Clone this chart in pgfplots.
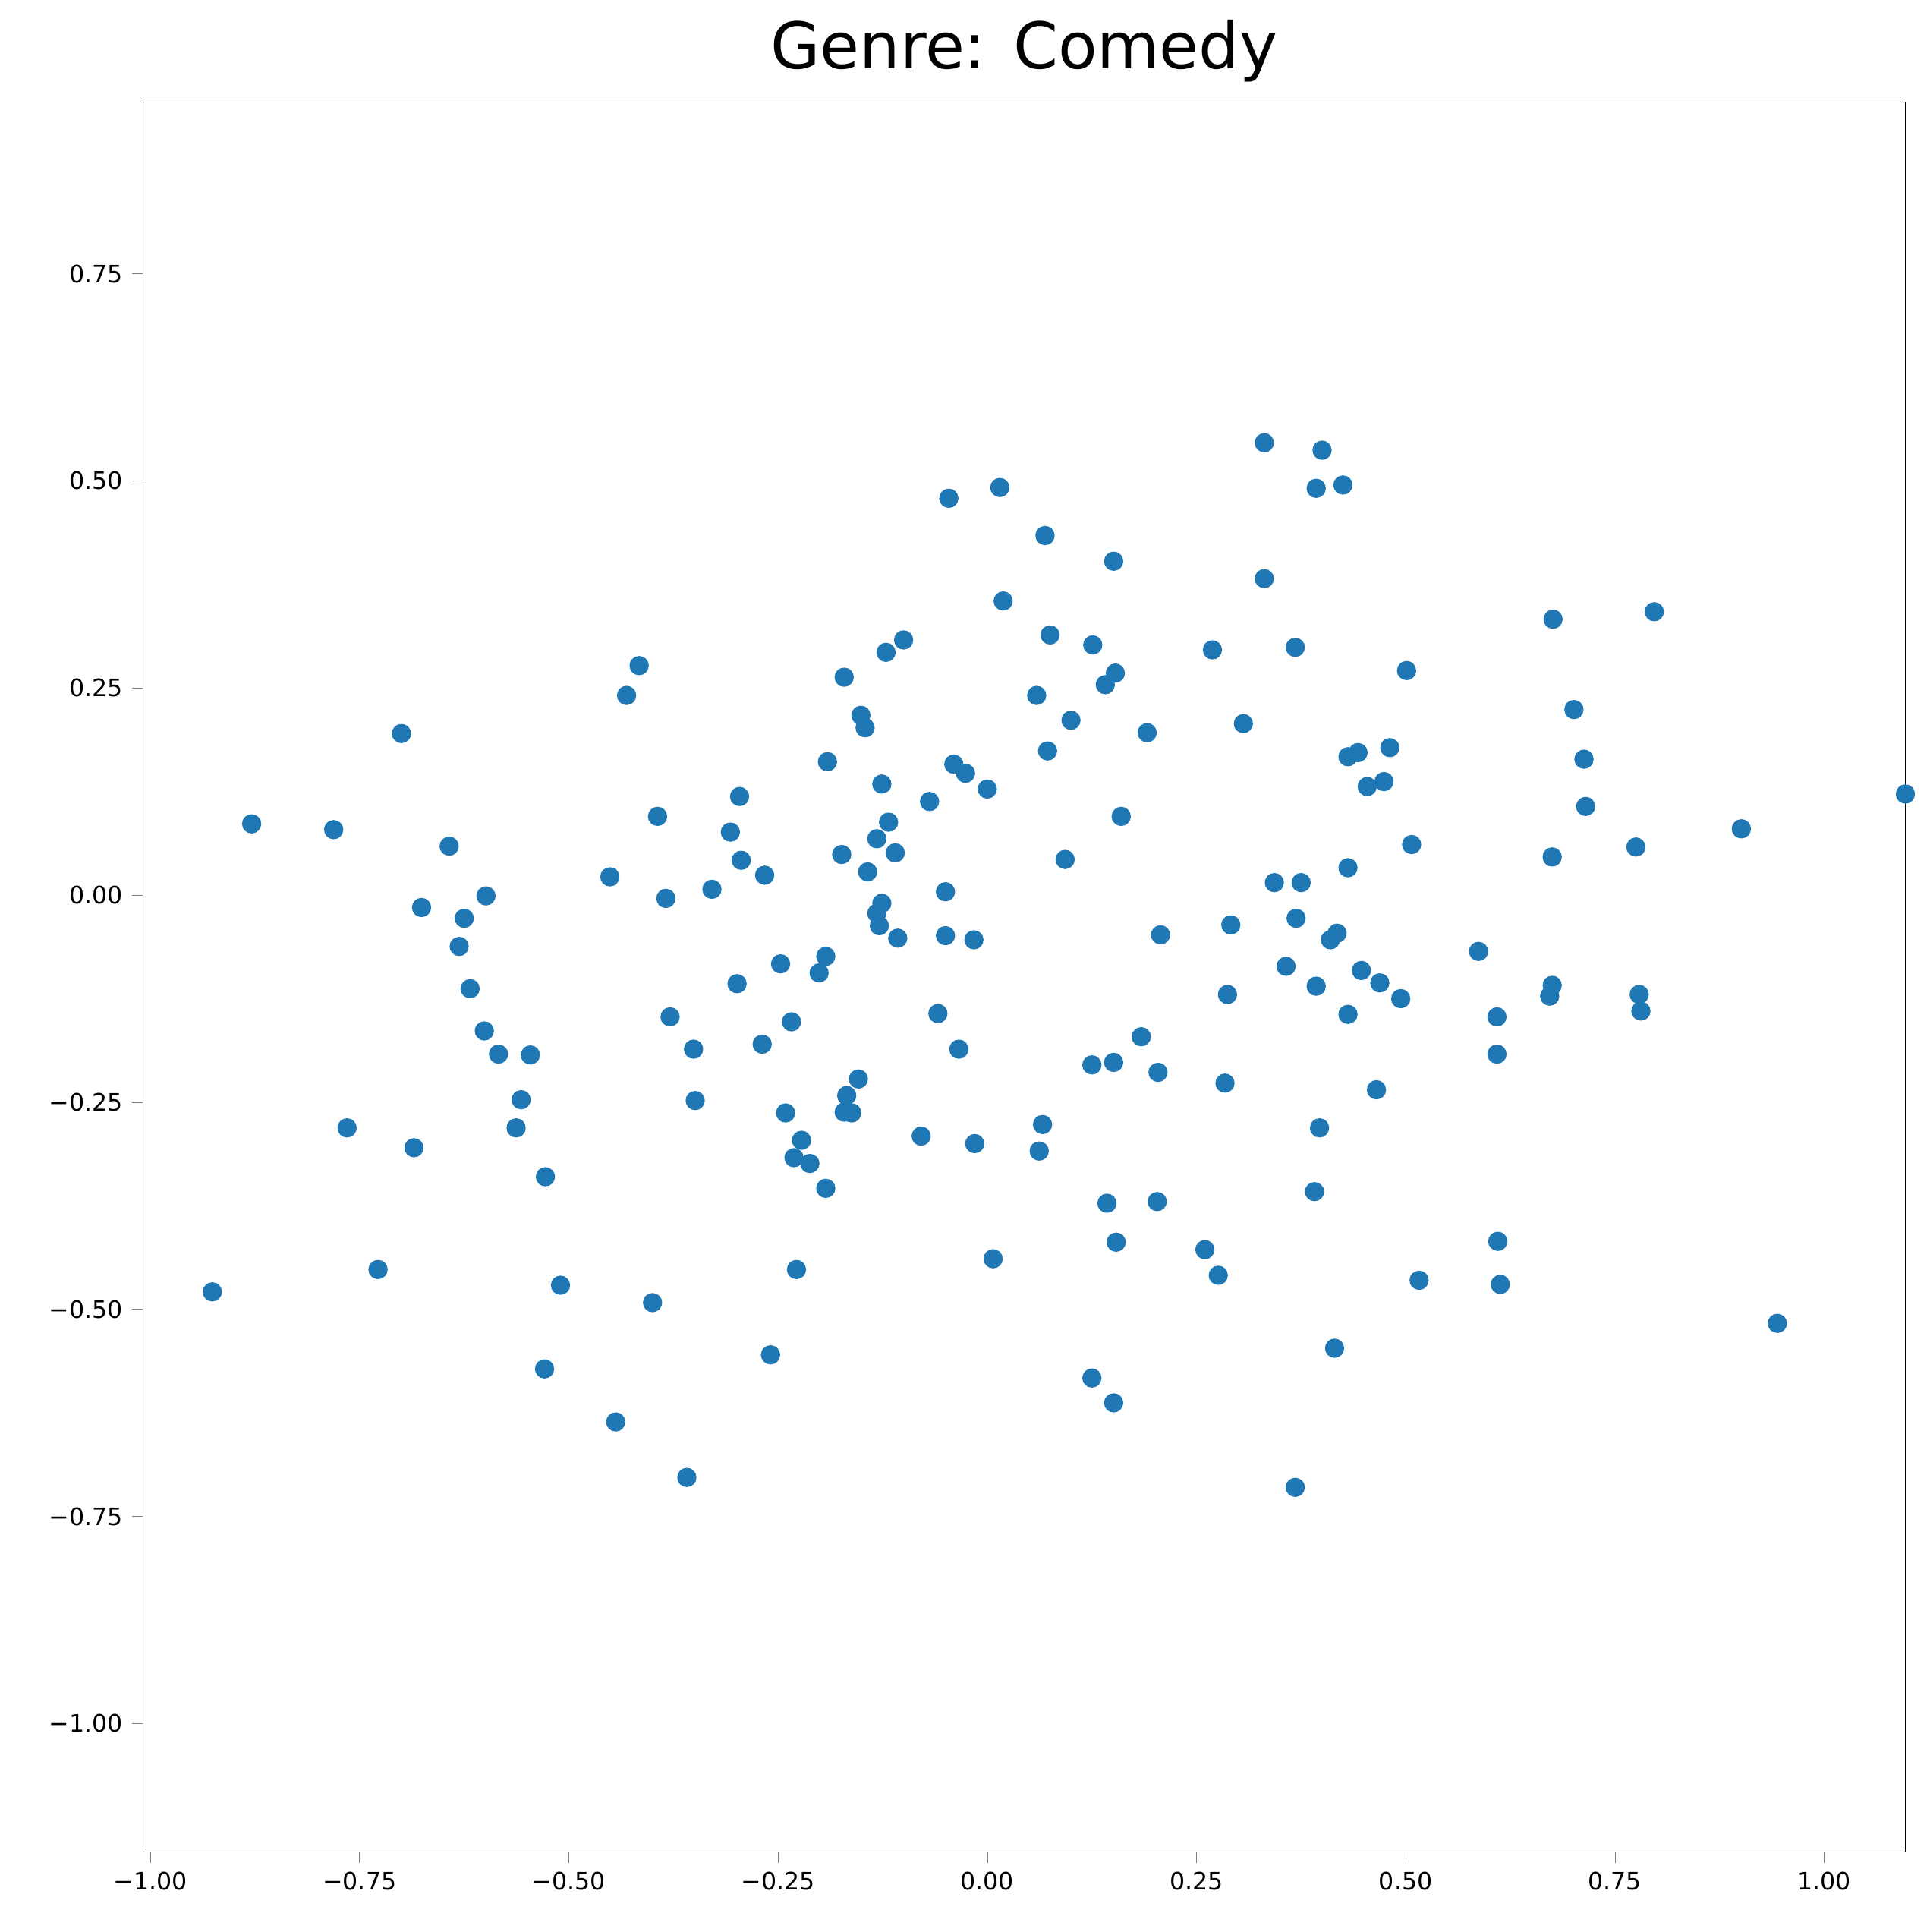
\documentclass[border=0pt]{standalone}
\usepackage{pgfplots}
\pgfplotsset{compat=1.18}
\usepackage{fontspec}
\setmainfont{DejaVu Sans}
\definecolor{tabblue}{HTML}{1F77B4}
\begin{document}
\begin{tikzpicture}
\begin{axis}[scale only axis, width=660pt, height=655pt,
 xmin=-1.009, xmax=1.097, ymin=-1.155, ymax=0.957,
 xtick={-1,-0.75,-0.5,-0.25,0,0.25,0.5,0.75,1},
 xticklabels={−1.00,−0.75,−0.50,−0.25,0.00,0.25,0.50,0.75,1.00},
 ytick={-1,-0.75,-0.5,-0.25,0,0.25,0.5,0.75},
 yticklabels={−1.00,−0.75,−0.50,−0.25,0.00,0.25,0.50,0.75},
 tick label style={font=\fontsize{9}{11}\selectfont},
 tick align=outside, tick pos=left, major tick length=4pt,
 title={\fontsize{24}{28}\selectfont Genre: Comedy},
 title style={yshift=-2pt},
 clip=true]
\coordinate (sw) at (rel axis cs:0,0);
\coordinate (ne) at (rel axis cs:1,1);
\addplot[only marks, mark=*, mark size=3.4pt, color=tabblue] coordinates {
(0.331,0.546)(0.400,0.537)(0.393,0.491)(0.425,0.495)(0.015,0.492)(-0.046,0.479)(0.069,0.434)(0.151,0.403)(0.331,0.382)(0.019,0.355)
(0.797,0.342)(0.676,0.333)(0.075,0.314)(-0.100,0.308)(0.126,0.302)(-0.121,0.293)(0.269,0.296)(0.368,0.299)(-0.416,0.277)(-0.171,0.263)
(0.153,0.268)(0.501,0.271)(0.141,0.254)(0.059,0.241)(-0.431,0.241)(0.701,0.224)(-0.151,0.217)(0.100,0.211)(-0.146,0.202)(0.306,0.207)
(-0.700,0.195)(0.191,0.196)(0.481,0.178)(0.443,0.172)(0.072,0.174)(0.431,0.167)(0.713,0.164)(-0.191,0.161)(-0.040,0.158)(-0.026,0.147)
(-0.296,0.119)(0.454,0.131)(0.474,0.137)(-0.126,0.134)(0.000,0.128)(1.097,0.122)(-0.069,0.113)(0.715,0.107)(0.160,0.095)(-0.394,0.095)
(-0.879,0.086)(-0.118,0.088)(-0.781,0.079)(0.901,0.080)(-0.307,0.076)(0.507,0.061)(-0.643,0.059)(0.775,0.058)(-0.132,0.068)(-0.174,0.049)
(-0.110,0.051)(0.675,0.046)(-0.294,0.042)(0.093,0.043)(0.431,0.033)(-0.143,0.028)(-0.266,0.024)(-0.451,0.022)(0.343,0.015)(0.375,0.015)
(-0.329,0.007)(-0.050,0.004)(-0.599,-0.001)(-0.384,-0.004)(-0.676,-0.015)(-0.126,-0.010)(-0.132,-0.022)(-0.625,-0.028)(0.369,-0.028)(-0.129,-0.037)
(0.291,-0.036)(0.418,-0.046)(0.207,-0.048)(0.410,-0.054)(-0.050,-0.049)(-0.016,-0.054)(-0.107,-0.052)(-0.631,-0.062)(-0.193,-0.074)(0.587,-0.068)
(-0.247,-0.083)(-0.201,-0.094)(0.357,-0.086)(0.447,-0.091)(-0.299,-0.107)(0.469,-0.106)(0.675,-0.109)(0.393,-0.110)(-0.618,-0.113)(0.287,-0.120)
(0.779,-0.120)(0.672,-0.122)(0.494,-0.125)(0.781,-0.140)(-0.379,-0.147)(0.609,-0.147)(0.431,-0.144)(-0.059,-0.143)(-0.234,-0.153)(-0.601,-0.164)
(0.184,-0.171)(-0.269,-0.180)(-0.351,-0.186)(-0.034,-0.186)(-0.584,-0.192)(-0.546,-0.193)(0.609,-0.192)(0.125,-0.205)(0.151,-0.202)(0.204,-0.214)
(-0.154,-0.222)(0.284,-0.227)(0.465,-0.235)(-0.168,-0.242)(-0.557,-0.247)(-0.349,-0.248)(-0.171,-0.262)(-0.162,-0.263)(-0.241,-0.263)(-0.765,-0.281)
(-0.563,-0.281)(0.397,-0.281)(0.066,-0.277)(-0.079,-0.291)(-0.222,-0.296)(-0.015,-0.300)(-0.685,-0.305)(0.062,-0.309)(-0.231,-0.317)(-0.212,-0.324)
(-0.528,-0.340)(-0.193,-0.354)(0.391,-0.358)(0.143,-0.372)(0.203,-0.370)(0.610,-0.418)(0.154,-0.419)(0.260,-0.428)(0.007,-0.439)(-0.728,-0.452)
(-0.228,-0.452)(0.276,-0.459)(0.516,-0.465)(-0.510,-0.471)(0.613,-0.470)(-0.926,-0.479)(-0.400,-0.492)(0.944,-0.517)(0.415,-0.547)(-0.259,-0.555)
(-0.529,-0.572)(0.125,-0.583)(0.151,-0.613)(-0.444,-0.636)(-0.359,-0.703)(0.368,-0.715)
};
\end{axis}
\pgfresetboundingbox
\path ([shift={(-53.5pt,-30pt)}]sw) rectangle ([shift={(9.2pt,38.3pt)}]ne);
\end{tikzpicture}
\end{document}
